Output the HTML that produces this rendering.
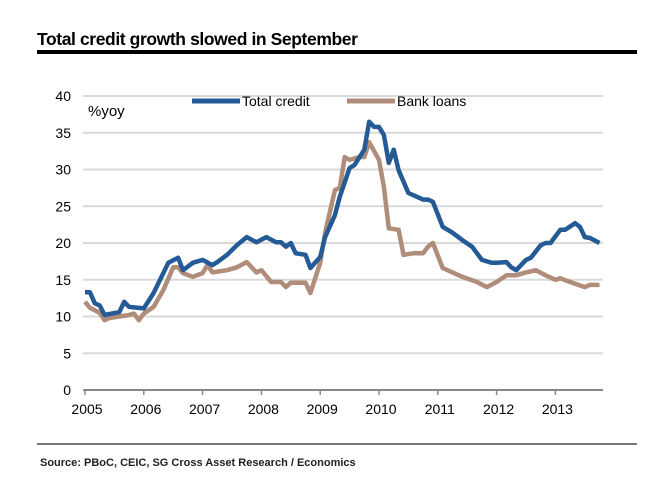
<!DOCTYPE html>
<html><head><meta charset="utf-8"><style>
body{margin:0;background:#fff;width:645px;height:483px;overflow:hidden;font-family:"Liberation Sans",Arial,sans-serif}
</style></head><body>
<svg width="645" height="483" viewBox="0 0 645 483">
<text x="37" y="45" font-size="17.5" font-weight="bold" fill="#000" style="letter-spacing:-0.4px">Total credit growth slowed in September</text>
<rect x="37" y="50" width="600" height="4" fill="#000"/>
<g id="grid"></g>
<g id="yt"></g>
<g id="xt"></g>
<text x="88" y="116" font-size="15" fill="#000">%yoy</text>
<g id="series"></g>
<g>
<g><line x1="192" y1="101" x2="240" y2="101" stroke="#245a96" stroke-width="5"/><text x="242" y="106" font-size="14">Total credit</text></g>
<g><line x1="347" y1="101" x2="395" y2="101" stroke="#b08c7a" stroke-width="5"/><text x="397" y="106" font-size="14">Bank loans</text></g>
</g>
<rect x="37" y="443" width="600" height="2" fill="#777"/>
<text x="40" y="466" font-size="11" font-weight="bold" fill="#222">Source: PBoC, CEIC, SG Cross Asset Research / Economics</text>
</svg>
<script>
const yTicks=[0,5,10,15,20,25,30,35,40];
const xYears=["2005","2006","2007","2008","2009","2010","2011","2012","2013"];
const totalMonths=[0,1,2,3,4,7,8,9,12,14,17,19,20,22,24,26,27,29,31,33,35,37,39,40,41,42,43,45,46,48,49,51,52,54,55,57,58,59,60,61,62,63,64,66,67,69,70,71,73,75,77,79,81,83,84,86,87,88,90,91,93,94,95,97,98,100,101,102,103,105];
const totalValues=[13.3,13.3,11.8,11.5,10.2,10.6,12,11.3,11.1,13.2,17.3,18,16.3,17.3,17.7,17,17.4,18.4,19.7,20.8,20.1,20.8,20.1,20.1,19.5,20,18.6,18.4,16.6,18.1,20.8,23.8,26.3,30.2,30.6,32.7,36.5,35.8,35.8,34.7,30.9,32.7,29.9,26.8,26.5,25.9,25.9,25.6,22.2,21.4,20.4,19.5,17.7,17.3,17.3,17.4,16.7,16.3,17.7,18,19.7,20,20,21.8,21.8,22.7,22.2,20.8,20.7,20];
const bankMonths=[0,1,3,4,5,7,9,10,11,12,14,16,18,19,20,22,24,25,26,29,31,33,35,36,38,40,41,42,45,46,48,49,51,52,53,54,56,57,58,60,61,62,64,65,67,69,70,71,73,75,77,80,82,84,86,88,90,92,94,96,97,99,102,103,105];
const bankValues=[12,11.2,10.5,9.5,9.8,10,10.2,10.4,9.5,10.4,11.3,13.6,16.7,16.7,15.9,15.4,15.9,17,16,16.3,16.7,17.4,16,16.3,14.7,14.7,14,14.6,14.6,13.2,17.3,21.4,27.2,27.5,31.7,31.3,31.7,31.7,33.7,31.3,27.6,22,21.8,18.4,18.6,18.6,19.5,20,16.6,16,15.4,14.7,14,14.7,15.6,15.6,16,16.3,15.6,15,15.2,14.7,14,14.3,14.3];
const NS="http://www.w3.org/2000/svg";
function yS(v){return 390-v*7.35;}
function xS(m){return 85+m*4.9;}
const grid=document.getElementById('grid'),yt=document.getElementById('yt'),xt=document.getElementById('xt'),ser=document.getElementById('series');
yTicks.forEach(v=>{
 if(v>0){const l=document.createElementNS(NS,'line');
 
 
 l.setAttribute('x1',83);l.setAttribute('x2',603);l.setAttribute('y1',yS(v));l.setAttribute('y2',yS(v));l.setAttribute('stroke','#d9d9d9');l.setAttribute('stroke-width','2');grid.appendChild(l);}
 const t=document.createElementNS(NS,'text');
 
 
 t.setAttribute('x',71);t.setAttribute('y',yS(v)+5);t.setAttribute('text-anchor','end');t.setAttribute('font-size','14');t.textContent=v;yt.appendChild(t);
});
const ax=document.createElementNS(NS,'line');


ax.setAttribute('x1',83);ax.setAttribute('x2',603);ax.setAttribute('y1',390);ax.setAttribute('y2',390);ax.setAttribute('stroke','#888');ax.setAttribute('stroke-width','2');xt.appendChild(ax);
xYears.forEach((y,i)=>{
 const x=xS(i*12);
 const tk=document.createElementNS(NS,'line');
 
 
 tk.setAttribute('x1',x);tk.setAttribute('x2',x);tk.setAttribute('y1',390);tk.setAttribute('y2',395);tk.setAttribute('stroke','#888');tk.setAttribute('stroke-width','1.5');xt.appendChild(tk);
 const t=document.createElementNS(NS,'text');
 
 
 t.setAttribute('x',x+2);t.setAttribute('y',414);t.setAttribute('text-anchor','middle');t.setAttribute('font-size','14');t.textContent=y;xt.appendChild(t);
});
function draw(ms,vs,col,name){
 const p=document.createElementNS(NS,'polyline');
 
 
 p.setAttribute('points',ms.map((m,i)=>xS(m).toFixed(1)+','+yS(vs[i]).toFixed(1)).join(' '));
 p.setAttribute('fill','none');p.setAttribute('stroke',col);p.setAttribute('stroke-width','4.5');p.setAttribute('stroke-linejoin','round');ser.appendChild(p);
}
draw(bankMonths,bankValues,'#b08c7a','bank-loans-line');
draw(totalMonths,totalValues,'#245a96','total-credit-line');
</script>
</body></html>
